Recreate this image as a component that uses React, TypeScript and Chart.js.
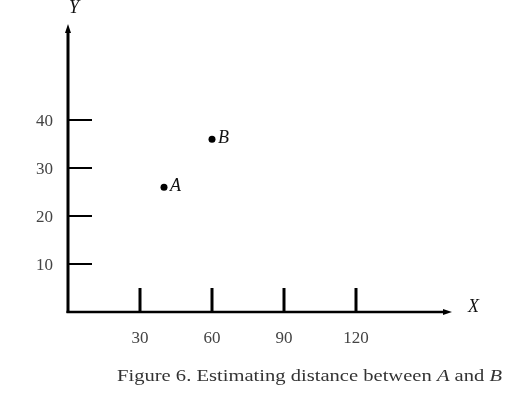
import React, { useEffect, useRef } from 'react';
import { Chart, registerables } from 'chart.js';

Chart.register(...registerables);

const xTicks = [30, 60, 90, 120];
const yTicks = [10, 20, 30, 40];
const xRange = [0, 160];
const yRange = [0, 60];
const pointNames = ['A', 'B'];
const pointX = [40, 60];
const pointY = [26, 36];
const axisNames = ['X', 'Y'];
const captionParts = [
  { text: 'Figure 6. Estimating distance between ', italic: false },
  { text: 'A', italic: true },
  { text: ' and ', italic: false },
  { text: 'B', italic: true },
];

const SERIF = '"Liberation Serif", "DejaVu Serif", serif';
const LABEL_COLOR = '#444';
const CAPTION_WIDTH = 385;

const axesPlugin = {
  id: 'mathAxes',
  beforeDatasetsDraw(chart: any) {
    const { ctx } = chart;
    const xs = chart.scales.x;
    const ys = chart.scales.y;
    const x0 = xs.getPixelForValue(xRange[0]);
    const y0 = ys.getPixelForValue(yRange[0]);
    const xEnd = xs.getPixelForValue(xRange[1]);
    const yEnd = ys.getPixelForValue(yRange[1]);
    ctx.save();
    ctx.strokeStyle = '#000';
    ctx.fillStyle = '#000';
    ctx.lineCap = 'butt';

    // y axis
    ctx.lineWidth = 3;
    ctx.beginPath();
    ctx.moveTo(x0, y0 + 1);
    ctx.lineTo(x0, yEnd + 6);
    ctx.stroke();
    ctx.beginPath();
    ctx.moveTo(x0, yEnd);
    ctx.lineTo(x0 - 3, yEnd + 9);
    ctx.lineTo(x0 + 3, yEnd + 9);
    ctx.closePath();
    ctx.fill();

    // x axis
    ctx.lineWidth = 2.5;
    ctx.beginPath();
    ctx.moveTo(x0 - 1.5, y0);
    ctx.lineTo(xEnd - 6, y0);
    ctx.stroke();
    ctx.beginPath();
    ctx.moveTo(xEnd, y0);
    ctx.lineTo(xEnd - 9, y0 - 3);
    ctx.lineTo(xEnd - 9, y0 + 3);
    ctx.closePath();
    ctx.fill();

    // y ticks (inward)
    ctx.lineWidth = 2;
    yTicks.forEach((v) => {
      const py = Math.round(ys.getPixelForValue(v));
      ctx.beginPath();
      ctx.moveTo(x0, py);
      ctx.lineTo(x0 + 24, py);
      ctx.stroke();
    });
    // x ticks (inward)
    ctx.lineWidth = 3;
    xTicks.forEach((v) => {
      const px = xs.getPixelForValue(v);
      ctx.beginPath();
      ctx.moveTo(px, y0);
      ctx.lineTo(px, y0 - 24);
      ctx.stroke();
    });

    // tick labels
    ctx.fillStyle = LABEL_COLOR;
    ctx.font = `17px ${SERIF}`;
    ctx.textAlign = 'right';
    ctx.textBaseline = 'alphabetic';
    yTicks.forEach((v) => {
      const py = ys.getPixelForValue(v);
      ctx.fillText(String(v), x0 - 15, py + 6);
    });
    ctx.textAlign = 'center';
    xTicks.forEach((v) => {
      const px = xs.getPixelForValue(v);
      ctx.fillText(String(v), px, y0 + 31);
    });

    // axis names
    ctx.fillStyle = '#111';
    ctx.font = `italic 18px ${SERIF}`;
    ctx.textAlign = 'left';
    ctx.fillText(axisNames[0], xEnd + 16, y0);
    ctx.textAlign = 'center';
    ctx.fillText(axisNames[1], x0 + 6, yEnd - 11);
    ctx.restore();
  },
  afterDatasetsDraw(chart: any) {
    const { ctx } = chart;
    const meta = chart.getDatasetMeta(0);
    ctx.save();
    ctx.fillStyle = '#111';
    ctx.font = `italic 18px ${SERIF}`;
    ctx.textAlign = 'left';
    ctx.textBaseline = 'alphabetic';
    meta.data.forEach((el: any, i: number) => {
      ctx.fillText(pointNames[i], el.x + 6, el.y + 4);
    });

    // caption
    const xs = chart.scales.x;
    const ys = chart.scales.y;
    const x0 = xs.getPixelForValue(xRange[0]);
    const y0 = ys.getPixelForValue(yRange[0]);
    const fontFor = (p: any) => `${p.italic ? 'italic ' : ''}17px ${SERIF}`;
    let total = 0;
    captionParts.forEach((p) => {
      ctx.font = fontFor(p);
      total += ctx.measureText(p.text).width;
    });
    const k = CAPTION_WIDTH / total;
    ctx.translate(x0 + 49, y0 + 69);
    ctx.scale(k, 1);
    let cx = 0;
    ctx.fillStyle = '#333';
    captionParts.forEach((p) => {
      ctx.font = fontFor(p);
      ctx.fillText(p.text, cx, 0);
      cx += ctx.measureText(p.text).width;
    });
    ctx.restore();
  },
};

export default function App() {
  const ref = useRef<HTMLCanvasElement | null>(null);
  useEffect(() => {
    if (!ref.current) return;
    const chart = new Chart(ref.current, {
      type: 'scatter',
      data: {
        datasets: [
          {
            data: pointX.map((x, i) => ({ x, y: pointY[i] })),
            pointRadius: 3.5,
            pointHoverRadius: 3.5,
            backgroundColor: '#000',
            borderColor: '#000',
            borderWidth: 0,
            showLine: false,
          },
        ],
      },
      options: {
        animation: false,
        responsive: false,
        devicePixelRatio: 1,
        layout: { padding: { left: 68, right: 80, top: 24, bottom: 100 } },
        scales: {
          x: { type: 'linear', min: xRange[0], max: xRange[1], display: false },
          y: { type: 'linear', min: yRange[0], max: yRange[1], display: false },
        },
        plugins: { legend: { display: false }, tooltip: { enabled: false } },
        events: [],
      },
      plugins: [axesPlugin],
    });
    return () => chart.destroy();
  }, []);
  return (
    <div style={{ position: 'fixed', left: 0, top: 0, width: 532, height: 412, background: '#fff' }}>
      <canvas ref={ref} width={532} height={412} style={{ display: 'block' }} />
    </div>
  );
}
